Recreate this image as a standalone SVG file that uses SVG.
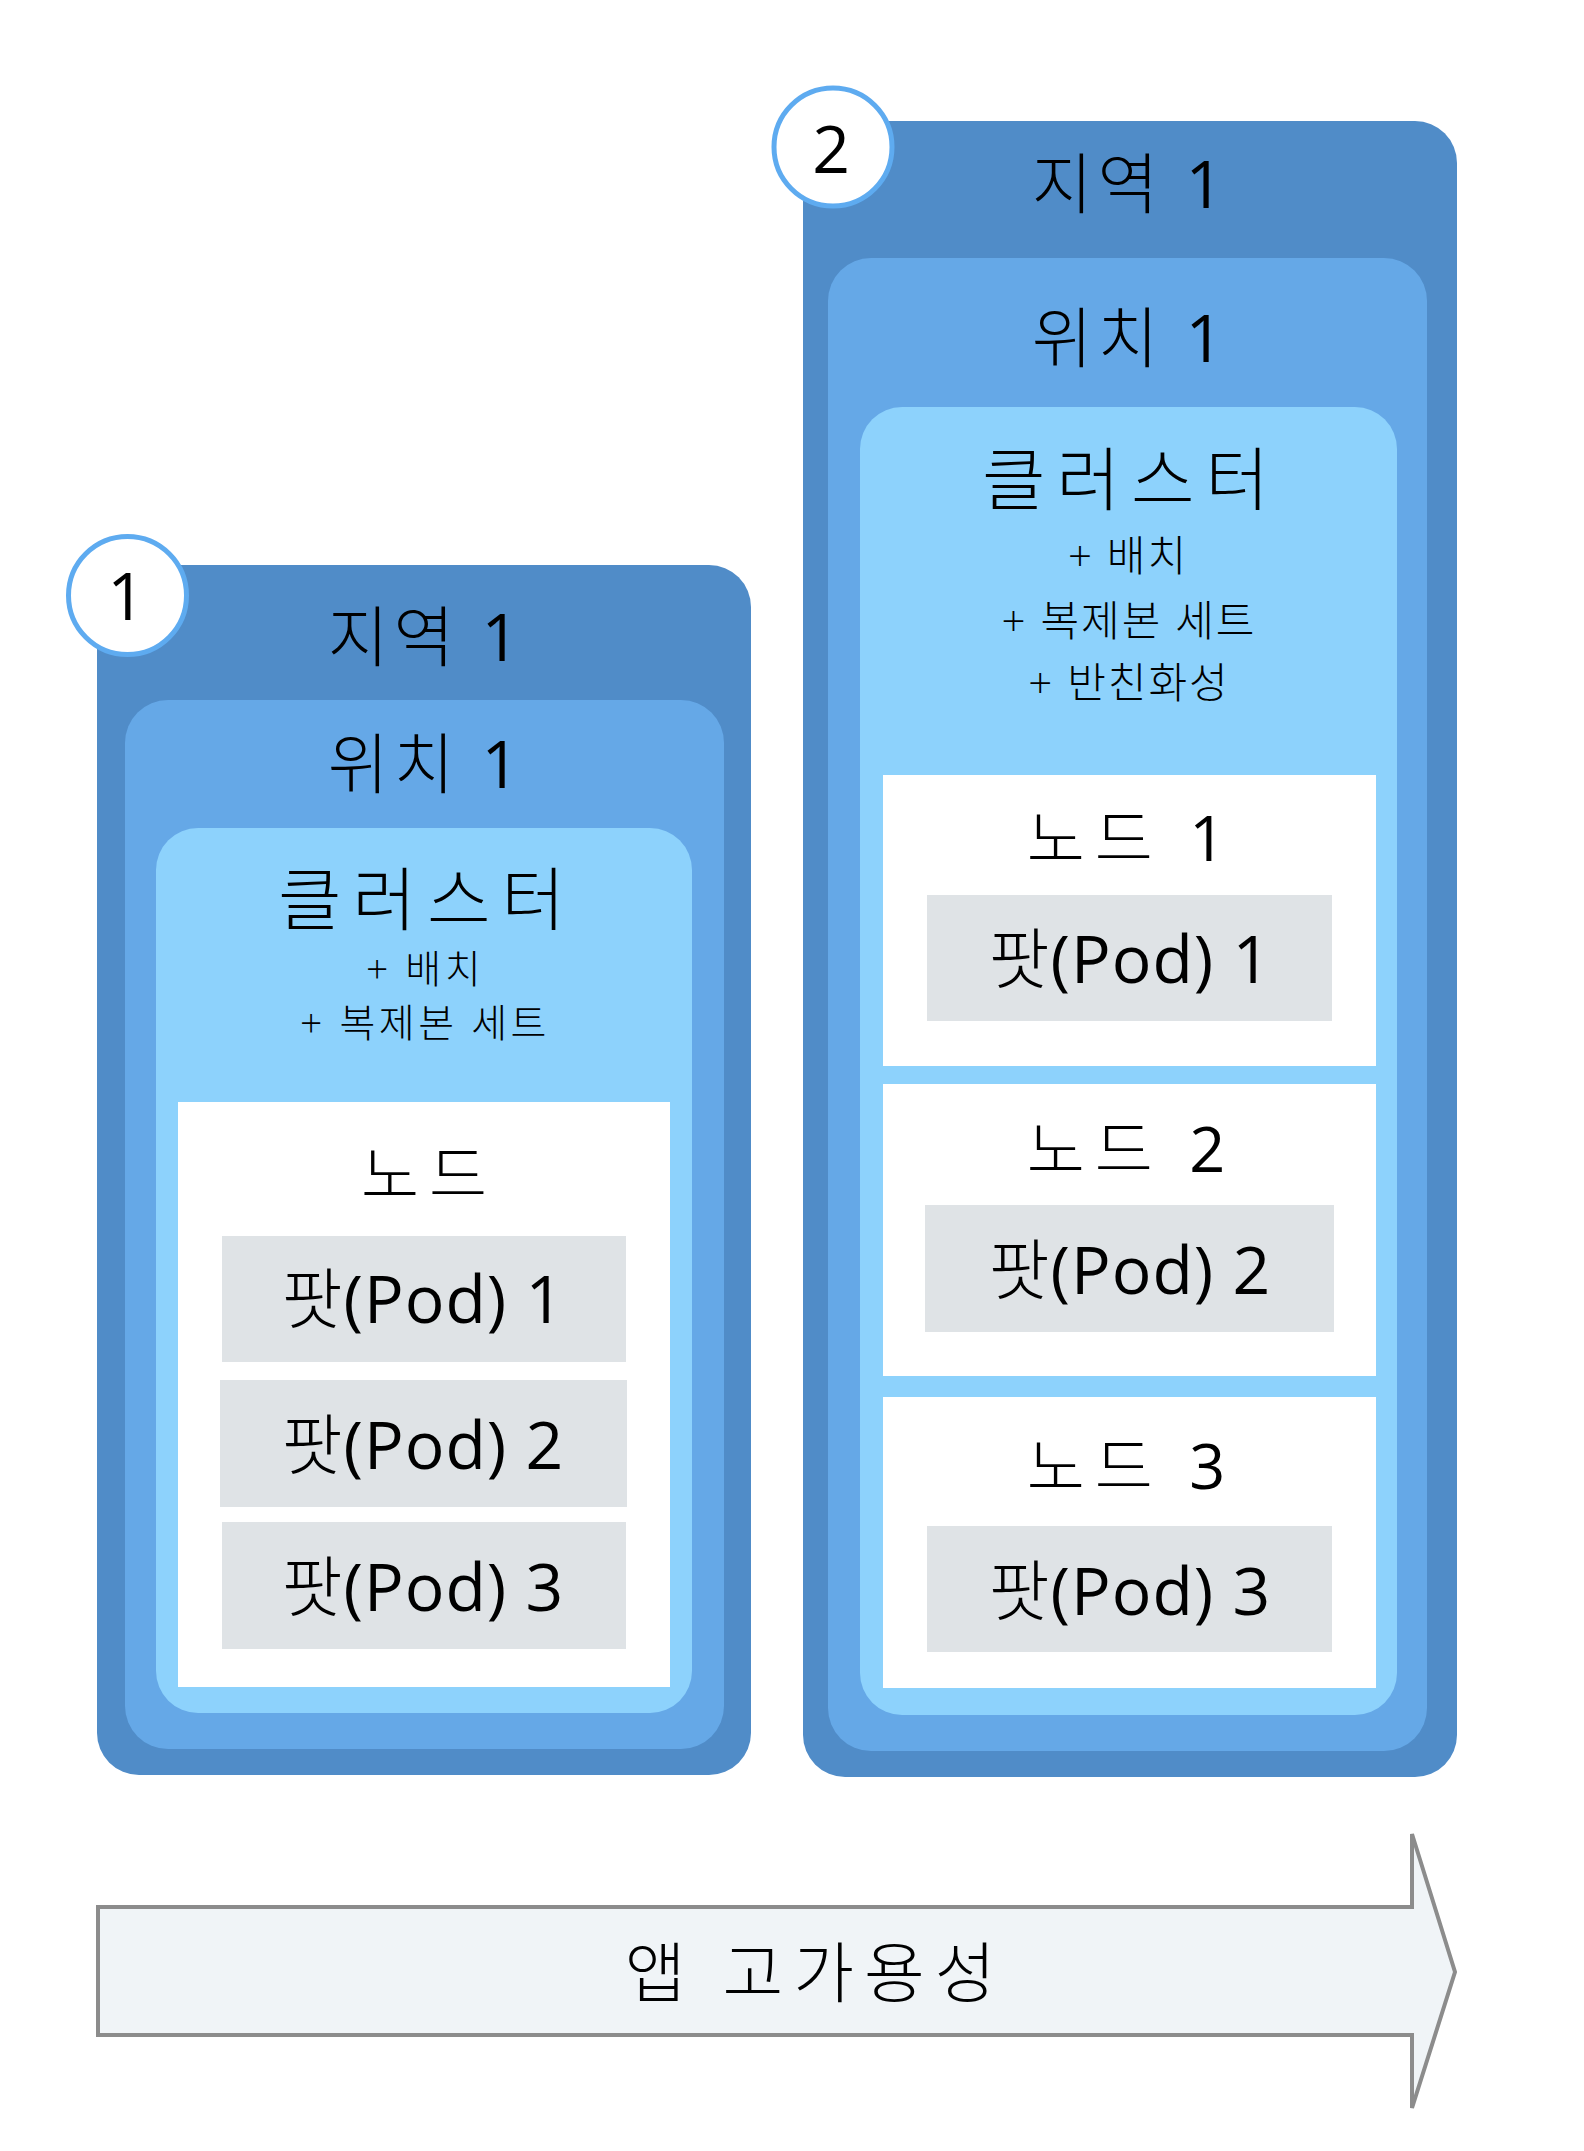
<svg xmlns="http://www.w3.org/2000/svg" width="1584" height="2151" viewBox="0 0 1584 2151">
<style>
text{font-family:"Open Sans","Noto Sans CJK KR",sans-serif;fill:#000;text-anchor:middle;font-weight:300}
.l{font-weight:400}
.region{fill:#508CC8}
.zone{fill:#65A8E7}
.cluster{fill:#8DD2FC}
.node{fill:#FFFFFF}
.pod{fill:#DFE3E6}
.badge{fill:#FFFFFF;stroke:#5EABF0;stroke-width:5}
.title{font-size:66px;letter-spacing:5px}
.num{font-size:66px;font-weight:400}
.podt{font-size:66px;letter-spacing:1px}
.t68{font-size:69px;letter-spacing:11px}
.t42{font-size:42px;letter-spacing:2px}
.t39{font-size:39px;letter-spacing:3.5px}
.t62{font-size:63px;letter-spacing:10px}
.arrow{fill:#F0F4F7;stroke:#8C8C8C;stroke-width:4}
.arrowt{font-size:66px;letter-spacing:10px}
</style>
<rect width="1584" height="2151" fill="#FFFFFF"/>

<g id="scenario1">
  <rect class="region" x="97" y="565" width="654" height="1210" rx="42"/>
  <text class="title" x="426" y="661">지역 <tspan class="l">1</tspan></text>
  <rect class="zone" x="125" y="700" width="599" height="1049" rx="43"/>
  <text class="title" x="426" y="788">위치 <tspan class="l">1</tspan></text>
  <rect class="cluster" x="156" y="828" width="536" height="885" rx="42"/>
  <text class="t68" x="427" y="925">클러스터</text>
  <text class="t39" x="425" y="983">+ 배치</text>
  <text class="t39" x="425" y="1037">+ 복제본 세트</text>
  <g id="s1-node">
    <rect class="node" x="178" y="1102" width="492" height="585"/>
    <text class="t62" x="429" y="1197">노드</text>
  </g>
  <g id="s1-pod1">
    <rect class="pod" x="222" y="1236" width="404" height="126"/>
    <text class="podt" x="423" y="1323">팟<tspan class="l">(Pod) 1</tspan></text>
  </g>
  <g id="s1-pod2">
    <rect class="pod" x="220" y="1380" width="407" height="127"/>
    <text class="podt" x="423" y="1469">팟<tspan class="l">(Pod) 2</tspan></text>
  </g>
  <g id="s1-pod3">
    <rect class="pod" x="222" y="1522" width="404" height="127"/>
    <text class="podt" x="423" y="1611">팟<tspan class="l">(Pod) 3</tspan></text>
  </g>
  <g id="badge1">
    <circle class="badge" cx="127.5" cy="595.5" r="59"/>
    <text class="num" x="126" y="620">1</text>
  </g>
</g>

<g id="scenario2">
  <rect class="region" x="803" y="121" width="654" height="1656" rx="42"/>
  <text class="title" x="1130" y="208">지역 <tspan class="l">1</tspan></text>
  <rect class="zone" x="828" y="258" width="599" height="1493" rx="43"/>
  <text class="title" x="1130" y="362">위치 <tspan class="l">1</tspan></text>
  <rect class="cluster" x="860" y="407" width="537" height="1308" rx="42"/>
  <text class="t68" x="1131" y="505">클러스터</text>
  <text class="t42" x="1128" y="571">+ 배치</text>
  <text class="t42" x="1129" y="636">+ 복제본 세트</text>
  <text class="t42" x="1129" y="698">+ 반친화성</text>
  <g id="s2-node1">
    <rect class="node" x="883" y="775" width="493" height="291"/>
    <text class="t62" x="1131" y="861">노드 <tspan class="l">1</tspan></text>
    <rect class="pod" x="927" y="895" width="405" height="126"/>
    <text class="podt" x="1130" y="983">팟<tspan class="l">(Pod) 1</tspan></text>
  </g>
  <g id="s2-node2">
    <rect class="node" x="883" y="1084" width="493" height="292"/>
    <text class="t62" x="1131" y="1172">노드 <tspan class="l">2</tspan></text>
    <rect class="pod" x="925" y="1205" width="409" height="127"/>
    <text class="podt" x="1130" y="1294">팟<tspan class="l">(Pod) 2</tspan></text>
  </g>
  <g id="s2-node3">
    <rect class="node" x="883" y="1397" width="493" height="291"/>
    <text class="t62" x="1131" y="1489">노드 <tspan class="l">3</tspan></text>
    <rect class="pod" x="927" y="1526" width="405" height="126"/>
    <text class="podt" x="1130" y="1615">팟<tspan class="l">(Pod) 3</tspan></text>
  </g>
  <g id="badge2">
    <circle class="badge" cx="833" cy="147" r="59"/>
    <text class="num" x="831" y="173">2</text>
  </g>
</g>

<g id="connectors">
  <g id="availability-arrow">
    <polygon class="arrow" points="98,1907 1412,1907 1412,1834 1455,1972 1412,2108 1412,2035 98,2035"/>
    <text class="arrowt" x="815" y="1997">앱 고가용성</text>
  </g>
</g>
</svg>
